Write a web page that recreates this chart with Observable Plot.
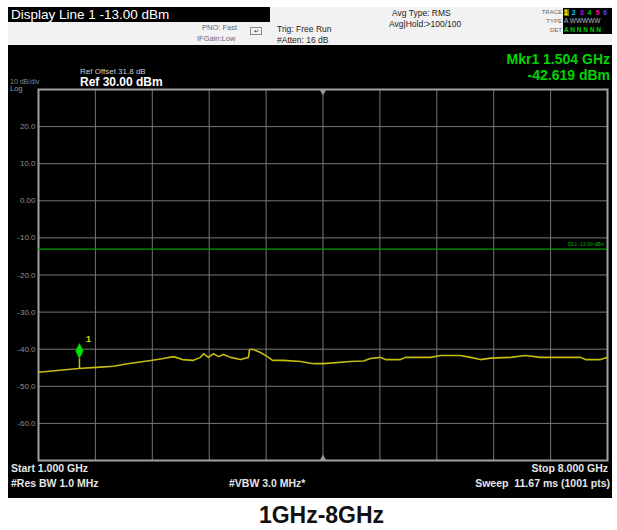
<!DOCTYPE html>
<html><head><meta charset="utf-8">
<script src="https://cdn.jsdelivr.net/npm/d3@7"></script>
<script src="https://cdn.jsdelivr.net/npm/@observablehq/plot@0.6"></script>
<style>
body{margin:0;background:#fff}
#wrap{position:relative;width:617px;height:530px;background:#fff;font-family:'Liberation Sans',Arial,sans-serif;overflow:hidden}
.a{position:absolute;white-space:nowrap;line-height:1}
#plot{position:absolute;left:0;top:0}
</style></head><body>
<div id="wrap">
  <div class="a" style="left:8px;top:7px;width:604px;height:491px;background:#000"></div>
  <div class="a" style="left:8px;top:7px;width:604px;height:38px;background:#f2f2f2"></div>
  <div class="a" style="left:8px;top:7px;width:262px;height:15px;background:#000"></div>
  <div class="a" style="left:11px;top:8px;font-size:13.5px;color:#fff">Display Line 1 -13.00 dBm</div>
  <div class="a" style="left:202px;top:24px;font-size:7.5px;color:#667">PNO: Fast</div>
  <div class="a" style="left:197px;top:35px;font-size:7.5px;color:#667">IFGain:Low</div>
  <div class="a" style="left:250px;top:27px;width:10px;height:6px;border:1px solid #889;font-size:6px;color:#333;text-align:center">&#8629;</div>
  <div class="a" style="left:277px;top:25px;font-size:8.5px;color:#222">Trig: Free Run</div>
  <div class="a" style="left:277px;top:36px;font-size:8.5px;color:#222">#Atten: 16 dB</div>
  <div class="a" style="left:392px;top:9px;font-size:8.5px;color:#222">Avg Type: RMS</div>
  <div class="a" style="left:389px;top:20px;font-size:8.5px;color:#222">Avg|Hold:&gt;100/100</div>
  <div class="a" style="left:540px;top:9px;width:22px;text-align:right;font-size:6px;color:#666">TRACE</div>
  <div class="a" style="left:540px;top:18px;width:22px;text-align:right;font-size:6px;color:#666">TYPE</div>
  <div class="a" style="left:540px;top:27px;width:22px;text-align:right;font-size:6px;color:#666">DET</div>
  <div class="a" style="left:563px;top:8px;width:49px;height:26px;background:#000"></div>
  <div class="a" style="left:564px;top:9px;font-size:7px;font-weight:bold;letter-spacing:1px"><span style="background:#777700;color:#ff0">1</span><span style="color:#0cf"> 2</span><span style="color:#c0f"> 3</span><span style="color:#0c0"> 4</span><span style="color:#f0a"> 5</span><span style="color:#44f"> 6</span></div>
  <div class="a" style="left:564px;top:18px;font-size:6.5px;color:#bbb">A WWWWW</div>
  <div class="a" style="left:564px;top:27px;font-size:6.5px;color:#0c0;font-weight:bold">A N N N N N</div>
  <div class="a" style="left:80px;top:68px;font-size:8px;color:#ccc">Ref Offset 31.8 dB</div>
  <div class="a" style="left:80px;top:76px;font-size:12px;color:#fff;font-weight:bold">Ref 30.00 dBm</div>
  <div class="a" style="left:10px;top:78px;font-size:7px;color:#888">10 dB/div</div>
  <div class="a" style="left:10px;top:85px;font-size:7.5px;color:#999">Log</div>
  <div class="a" style="right:7px;top:52px;font-size:14px;color:#00d400;font-weight:bold">Mkr1 1.504 GHz</div>
  <div class="a" style="right:7px;top:68px;font-size:14px;color:#00d400;font-weight:bold">-42.619 dBm</div>
  <div id="plot"></div>
  <div class="a" style="left:11px;top:463px;font-size:10.5px;color:#e6e6e6;font-weight:bold">Start 1.000 GHz</div>
  <div class="a" style="left:11px;top:478px;font-size:10.5px;color:#e6e6e6;font-weight:bold">#Res BW 1.0 MHz</div>
  <div class="a" style="left:229px;top:478px;font-size:10.5px;color:#e6e6e6;font-weight:bold">#VBW 3.0 MHz*</div>
  <div class="a" style="right:9px;top:463px;font-size:10.5px;color:#e6e6e6;font-weight:bold">Stop 8.000 GHz</div>
  <div class="a" style="right:7px;top:478px;font-size:10.5px;color:#e6e6e6;font-weight:bold">Sweep&nbsp; 11.67 ms (1001 pts)</div>
  <div class="a" style="left:0;top:504px;width:617px;padding-left:26px;box-sizing:border-box;text-align:center;font-size:23px;font-weight:bold;color:#111">1GHz-8GHz</div>
</div>
<script>
// Trace (GHz, dBm)
const freqs = [1.000,1.492,1.714,1.923,2.095,2.402,2.538,2.661,2.772,2.907,2.993,3.030,3.091,3.153,3.214,3.276,3.362,3.485,3.583,3.596,3.645,3.731,3.817,3.879,4.014,4.223,4.383,4.506,4.838,4.998,5.084,5.207,5.269,5.453,5.515,5.823,5.946,6.192,6.315,6.438,6.561,6.807,6.991,7.176,7.422,7.668,7.729,7.914,8.000];
const levels = [-46.2,-45.2,-44.9,-44.6,-43.9,-43.0,-42.5,-42.0,-42.8,-43.0,-42.2,-41.2,-42.2,-41.2,-42.0,-41.4,-42.2,-42.8,-42.2,-40.1,-40.1,-40.9,-42.0,-43.0,-43.0,-43.3,-43.9,-43.9,-43.3,-43.2,-42.5,-42.2,-42.8,-42.8,-42.2,-42.2,-41.7,-41.7,-42.2,-42.8,-42.4,-42.2,-41.7,-42.2,-42.2,-42.2,-42.8,-42.8,-42.2];
const xGrid = [1.0,1.7,2.4,3.1,3.8,4.5,5.2,5.9,6.6,7.3,8.0];
const yGrid = [30,20,10,0,-10,-20,-30,-40,-50,-60,-70];
const yLabelValues = [20,10,0,-10,-20,-30,-40,-50,-60];
const yLabels = ["20.0","10.0","0.00","-10.0","-20.0","-30.0","-40.0","-50.0","-60.0"];
const displayLine = [-13];
const displayLineLabel = ["DL1 -13.00 dBm"];
const centerFreq = [4.5];
const markerFreq = 1.504;
const markerLevel = -42.619;
const markerTraceLevel = -45.2;

const trace = freqs.map((f, i) => ({f, v: levels[i]}));
const tallDiamond = {draw(ctx, size){ const r = Math.sqrt(size/Math.PI); ctx.moveTo(0,-2*r); ctx.lineTo(r,0); ctx.lineTo(0,2*r); ctx.lineTo(-r,0); ctx.closePath(); }};

const chart = Plot.plot({
  width: 617, height: 500,
  marginLeft: 38, marginRight: 10, marginTop: 89, marginBottom: 40,
  style: {background: "transparent", fontFamily: "'Liberation Sans',Arial,sans-serif"},
  x: {domain: [1, 8], axis: null},
  y: {domain: [-70, 30], axis: null},
  marks: [
    Plot.ruleX(xGrid, {stroke: "#767676", strokeWidth: 1}),
    Plot.ruleY(yGrid, {stroke: "#767676", strokeWidth: 1}),
    Plot.frame({stroke: "#a0a0a0", strokeWidth: 2}),
    Plot.text(yLabelValues, {x: 1, y: d => d, text: (d, i) => yLabels[i], textAnchor: "end", dx: -3, fill: "#909090", fontSize: 8}),
    Plot.ruleY(displayLine, {stroke: "#00a000", strokeWidth: 1.2}),
    Plot.text(displayLine, {x: 8, y: d => d, text: () => displayLineLabel[0], textAnchor: "end", dx: -3, dy: -5, fill: "#00b000", fontSize: 5}),
    Plot.dot(centerFreq, {x: d => d, frameAnchor: "top", symbol: "triangle", rotate: 180, r: 2.5, fill: "#999", stroke: "none", dy: 2}),
    Plot.dot(centerFreq, {x: d => d, frameAnchor: "bottom", symbol: "triangle", r: 2.5, fill: "#999", stroke: "none", dy: -2}),
    Plot.line(trace, {x: "f", y: "v", stroke: "#c4bc10", strokeWidth: 1.6}),
    Plot.ruleX([markerFreq], {y1: markerTraceLevel, y2: markerLevel, stroke: "#c4c800", strokeWidth: 1.5}),
    Plot.dot([markerFreq], {x: d => d, y: markerLevel, symbol: tallDiamond, r: 4, fill: "#00e000", stroke: "none", dy: -8}),
    Plot.text([markerFreq], {x: d => d, y: markerLevel, text: () => "1", dx: 9, dy: -20, fill: "#d8d800", fontSize: 9, fontWeight: "bold"})
  ]
});
document.getElementById("plot").appendChild(chart);
</script>
</body></html>
